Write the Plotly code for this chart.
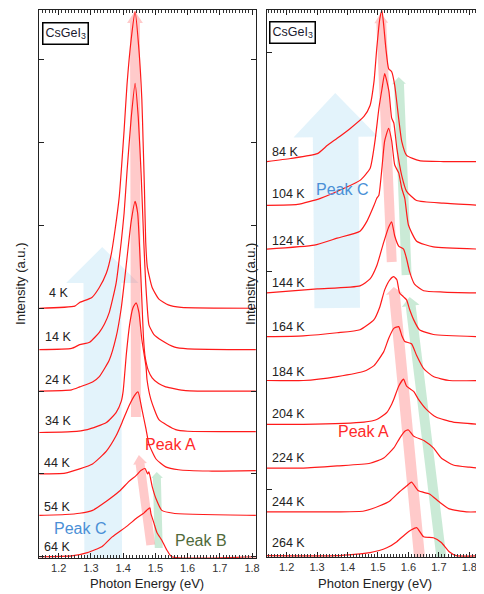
import math
import plotly.graph_objects as go

# The page body has an 8px margin, so the figure is drawn from (8, 8) in the window.
OX, OY = 8, 8
W, H = 484 - OX, 594 - OY

# ---------------- Left panel data (energy in eV, intensity above baseline in offset units)
left_labels = ["4 K", "14 K", "24 K", "34 K", "44 K", "54 K", "64 K"]
left_offsets = [6, 5, 4, 3, 2, 1, 0]

e_4K = [1.14, 1.25, 1.265, 1.303, 1.326, 1.348, 1.363, 1.375, 1.388, 1.394, 1.403, 1.412, 1.425, 1.437,
        1.449, 1.458, 1.462, 1.466, 1.470, 1.475, 1.49, 1.511, 1.54, 1.58, 1.812]
i_4K = [0, 0.05, 0.14, 0.26, 0.5, 0.85, 1.3, 1.9, 2.7, 3.3, 4.3, 5.4, 6.5, 7.16,
        6.24, 5.04, 4.0, 2.9, 1.6, 1.0, 0.5, 0.22, 0.08, 0.02, 0]

e_14K = [1.14, 1.24, 1.265, 1.296, 1.326, 1.342, 1.357, 1.378, 1.394, 1.403, 1.412, 1.425, 1.437,
         1.447, 1.456, 1.464, 1.47, 1.475, 1.48, 1.495, 1.52, 1.56, 1.60, 1.812]
i_14K = [0, 0.03, 0.12, 0.18, 0.42, 0.62, 0.9, 1.6, 2.6, 3.3, 4.3, 5.6, 6.43,
         5.6, 4.2, 2.6, 1.6, 1.0, 0.6, 0.37, 0.22, 0.06, 0.02, 0]

e_24K = [1.14, 1.24, 1.265, 1.305, 1.326, 1.357, 1.378, 1.394, 1.409, 1.425, 1.437,
         1.445, 1.452, 1.458, 1.463, 1.468, 1.478, 1.49, 1.51, 1.532, 1.594, 1.812]
i_24K = [0, 0.03, 0.1, 0.22, 0.35, 0.75, 1.3, 2.0, 3.0, 4.1, 4.58,
         4.3, 3.3, 2.2, 1.3, 0.84, 0.5, 0.32, 0.18, 0.1, 0.01, 0]

e_34K = [1.14, 1.24, 1.289, 1.348, 1.378, 1.394, 1.40, 1.41, 1.42, 1.43, 1.44,
         1.449, 1.458, 1.471, 1.474, 1.486, 1.511, 1.563, 1.60, 1.812]
i_34K = [0, 0.02, 0.07, 0.24, 0.48, 0.75, 1.0, 1.9, 2.6, 3.0, 3.13,
         2.9, 2.24, 1.59, 1.28, 0.8, 0.31, 0.07, 0.03, 0.02]

e_44K = [1.14, 1.22, 1.265, 1.305, 1.348, 1.378, 1.397, 1.418, 1.434, 1.446,
         1.458, 1.471, 1.48, 1.502, 1.532, 1.572, 1.665, 1.812]
i_44K = [0, 0.02, 0.12, 0.24, 0.55, 0.92, 1.25, 1.64, 1.88, 1.98,
         1.57, 1.08, 0.72, 0.36, 0.17, 0.1, 0.07, 0.08]

e_54K = [1.14, 1.22, 1.265, 1.305, 1.348, 1.388, 1.418, 1.440, 1.455, 1.468,
         1.476, 1.480, 1.49, 1.502, 1.52, 1.556, 1.812]
i_54K = [0, 0.02, 0.05, 0.12, 0.34, 0.58, 0.82, 0.96, 1.08, 1.13,
         1.0, 1.05, 0.7, 0.4, 0.12, 0.05, 0.0]

e_64K = [1.14, 1.24, 1.289, 1.335, 1.366, 1.412, 1.443, 1.465, 1.474, 1.483,
         1.486, 1.489, 1.496, 1.505, 1.52, 1.535, 1.551, 1.812]
i_64K = [0, 0.02, 0.1, 0.25, 0.48, 0.74, 0.94, 1.06, 1.13, 1.18,
         1.05, 0.97, 0.8, 0.58, 0.4, 0.17, 0.0, 0.0]

left_e = [e_4K, e_14K, e_24K, e_34K, e_44K, e_54K, e_64K]
left_i = [i_4K, i_14K, i_24K, i_34K, i_44K, i_54K, i_64K]

# ---------------- Right panel data
right_labels = ["84 K", "104 K", "124 K", "144 K", "164 K", "184 K", "204 K", "224 K", "244 K", "264 K"]
right_offsets = [9, 8, 7, 6, 5, 4, 3, 2, 1, 0]

e_84K = [1.135, 1.213, 1.301, 1.334, 1.366, 1.408, 1.454, 1.474, 1.487, 1.496, 1.506, 1.513,
         1.519, 1.526, 1.535, 1.545, 1.555, 1.568, 1.578, 1.594, 1.636, 1.715, 1.835]
i_84K = [0, 0.07, 0.18, 0.37, 0.53, 0.75, 1.03, 1.28, 1.83, 2.58, 3.26, 3.45,
         3.1, 2.58, 2.12, 2.05, 1.74, 0.98, 0.46, 0.14, 0.02, 0, 0]

e_104K = [1.135, 1.236, 1.311, 1.389, 1.441, 1.474, 1.49, 1.503, 1.513, 1.522,
          1.536, 1.545, 1.552, 1.562, 1.578, 1.594, 1.627, 1.715, 1.835]
i_104K = [0, 0.02, 0.16, 0.39, 0.57, 0.84, 1.46, 2.21, 2.65, 3.01,
          2.6, 1.99, 1.88, 1.30, 0.68, 0.32, 0.11, 0.05, 0]

e_124K = [1.135, 1.291, 1.366, 1.441, 1.464, 1.487, 1.496, 1.503, 1.513, 1.522, 1.535,
          1.545, 1.555, 1.568, 1.578, 1.588, 1.60, 1.627, 1.682, 1.835]
i_124K = [0, 0.09, 0.25, 0.41, 0.64, 1.0, 1.16, 1.23, 1.85, 2.47, 2.76,
          2.47, 1.92, 1.74, 1.39, 1.16, 0.55, 0.18, 0.05, 0]

e_144K = [1.135, 1.301, 1.441, 1.474, 1.496, 1.519, 1.535, 1.545,
          1.555, 1.568, 1.584, 1.594, 1.604, 1.62, 1.65, 1.715, 1.835]
i_144K = [0, 0.09, 0.16, 0.32, 0.62, 1.16, 1.5, 1.62,
          1.30, 1.07, 1.0, 0.78, 0.48, 0.2, 0.05, 0.02, 0]

e_164K = [1.135, 1.255, 1.366, 1.441, 1.487, 1.506, 1.522, 1.539, 1.552,
          1.562, 1.571, 1.584, 1.594, 1.604, 1.617, 1.636, 1.682, 1.835]
i_164K = [0, 0.02, 0.09, 0.16, 0.39, 0.68, 1.07, 1.30, 1.37,
          1.30, 1.0, 0.91, 0.84, 0.62, 0.39, 0.16, 0.05, 0]

e_184K = [1.135, 1.255, 1.366, 1.454, 1.487, 1.519, 1.535, 1.552, 1.568,
          1.578, 1.588, 1.61, 1.627, 1.65, 1.682, 1.734, 1.835]
i_184K = [0, 0, 0.09, 0.21, 0.34, 0.66, 0.96, 1.19, 1.23,
          1.03, 0.89, 0.84, 0.57, 0.27, 0.09, 0, 0]

e_204K = [1.135, 1.255, 1.454, 1.496, 1.529, 1.545, 1.552, 1.568, 1.584,
          1.594, 1.617, 1.633, 1.659, 1.692, 1.747, 1.835]
i_204K = [0, 0, 0.05, 0.11, 0.27, 0.46, 0.57, 0.87, 1.03,
          0.87, 0.75, 0.57, 0.34, 0.16, 0.05, 0]

e_224K = [1.135, 1.255, 1.366, 1.474, 1.519, 1.552, 1.571, 1.588, 1.60,
          1.617, 1.653, 1.682, 1.708, 1.747, 1.80, 1.835]
i_224K = [0, 0, 0.05, 0.11, 0.23, 0.46, 0.68, 0.84, 0.87,
          0.73, 0.62, 0.46, 0.23, 0.07, 0.02, 0]

e_244K = [1.135, 1.366, 1.454, 1.506, 1.539, 1.571, 1.594, 1.61,
          1.633, 1.669, 1.701, 1.734, 1.79, 1.835]
i_244K = [0, 0, 0.02, 0.14, 0.25, 0.46, 0.59, 0.68,
          0.48, 0.41, 0.23, 0.07, 0, 0]

e_264K = [1.135, 1.366, 1.474, 1.529, 1.562, 1.588, 1.61, 1.627,
          1.65, 1.682, 1.708, 1.734, 1.757, 1.835]
i_264K = [0, 0, 0.07, 0.18, 0.32, 0.48, 0.59, 0.64,
          0.43, 0.41, 0.30, 0.09, 0, 0]

right_e = [e_84K, e_104K, e_124K, e_144K, e_164K, e_184K, e_204K, e_224K, e_244K, e_264K]
right_i = [i_84K, i_104K, i_124K, i_144K, i_164K, i_184K, i_204K, i_224K, i_244K, i_264K]

x_ticks = [1.2, 1.3, 1.4, 1.5, 1.6, 1.7, 1.8]

# ---------------- Figure
fig = go.Figure()
RED = "#ff1a1a"
for e, i, off in zip(left_e, left_i, left_offsets):
    fig.add_trace(go.Scatter(x=e, y=[v + off for v in i], mode="lines",
                             line=dict(color=RED, width=1.2, shape="spline", smoothing=0.5),
                             xaxis="x", yaxis="y", showlegend=False, hoverinfo="skip"))
for e, i, off in zip(right_e, right_i, right_offsets):
    fig.add_trace(go.Scatter(x=e, y=[v + off for v in i], mode="lines",
                             line=dict(color=RED, width=1.2, shape="spline", smoothing=0.5),
                             xaxis="x2", yaxis="y2", showlegend=False, hoverinfo="skip"))


def px(x):
    return (x - OX) / W


def py(y):
    return 1 - (y - OY) / H


def arrow_path(x0, y0, x1, y1, w, hw, hl):
    dx, dy = x1 - x0, y1 - y0
    L = math.hypot(dx, dy)
    ux, uy = dx / L, dy / L
    nx, ny = -uy, ux
    bx, by = x1 - ux * hl, y1 - uy * hl
    pts = [(x0 + nx * w / 2, y0 + ny * w / 2), (bx + nx * w / 2, by + ny * w / 2),
           (bx + nx * hw / 2, by + ny * hw / 2), (x1, y1),
           (bx - nx * hw / 2, by - ny * hw / 2), (bx - nx * w / 2, by - ny * w / 2),
           (x0 - nx * w / 2, y0 - ny * w / 2)]
    return "M " + " L ".join(f"{px(a):.5f},{py(b):.5f}" for a, b in pts) + " Z"


BLUE_F = "rgba(100,190,235,0.18)"
RED_F = "rgba(255,90,90,0.32)"
GREEN_F = "rgba(80,185,120,0.3)"

arrows = [
    (104, 558, 103, 247, 38, 73, 36, BLUE_F),
    (340, 308, 338, 93, 46, 85, 44, BLUE_F),
    (137, 417, 136, 11, 10, 16, 12, RED_F),
    (152, 545, 140, 455, 9, 14, 9, RED_F),
    (160, 548, 158, 472, 8, 12, 6, GREEN_F),
    (395, 262, 384, 13, 10, 14, 10, RED_F),
    (410, 275, 402, 77, 10, 14, 7, GREEN_F),
    (423, 557, 397, 287, 11, 17, 7, RED_F),
    (445, 557, 413, 297, 10, 18, 9, GREEN_F),
]
shapes = []
for a in arrows:
    shapes.append(dict(type="path", xref="paper", yref="paper",
                       path=arrow_path(*a[:7]), fillcolor=a[7], line=dict(width=0), layer="below"))

FONT = "Liberation Sans, Arial, sans-serif"
ann = []
for lab, (lx, ly) in zip(left_labels, [(47, 293), (43, 337), (43, 380), (43, 421), (42, 463), (42, 507), (42, 547)]):
    ann.append(dict(text=lab, x=px(lx), y=py(ly), xref="paper", yref="paper", xanchor="left",
                    yanchor="middle", showarrow=False, font=dict(size=12.5, color="#222", family=FONT)))
for lab, ly in zip(right_labels, [152, 194, 241, 283, 327, 372, 414, 458, 502, 543]):
    ann.append(dict(text=lab, x=px(272), y=py(ly), xref="paper", yref="paper", xanchor="left",
                    yanchor="middle", showarrow=False, font=dict(size=12.5, color="#222", family=FONT)))

peak_txt = [("Peak A", 172, 444, "#ff2a2a"), ("Peak B", 203, 540, "#4f6a3a"), ("Peak C", 81, 528, "#4a8fd6"),
            ("Peak C", 345, 190, "#4a8fd6"), ("Peak A", 367, 431, "#ff2a2a")]
for t, x, y, c in peak_txt:
    ann.append(dict(text=t, x=px(x), y=py(y), xref="paper", yref="paper", xanchor="center",
                    yanchor="middle", showarrow=False, font=dict(size=16, color=c, family=FONT)))

for x, y in [(66, 34), (295, 33)]:
    ann.append(dict(text="CsGeI<sub>3</sub>", x=px(x), y=py(y), xref="paper", yref="paper",
                    xanchor="center", yanchor="middle", showarrow=False,
                    font=dict(size=12.5, color="#1a1a2e", family=FONT),
                    bordercolor="black", borderwidth=1.5, borderpad=2, bgcolor="white"))

for x in [20, 252]:
    ann.append(dict(text="Intensity (a.u.)", x=px(x), y=py(284), xref="paper", yref="paper",
                    xanchor="center", yanchor="middle", textangle=-90, showarrow=False,
                    font=dict(size=13, color="#222", family=FONT)))
for x in [148, 378]:
    ann.append(dict(text="Photon Energy (eV)", x=px(x), y=py(583), xref="paper", yref="paper",
                    xanchor="center", yanchor="middle", showarrow=False,
                    font=dict(size=13, color="#222", family=FONT)))

xcommon = dict(tickmode="array", tickvals=x_ticks, ticktext=[f"{v:.1f}" for v in x_ticks],
               ticks="inside", ticklen=5, tickcolor="#222", showline=True, linecolor="#222",
               linewidth=1.3, showgrid=False, zeroline=False,
               tickfont=dict(size=11, color="#333", family=FONT),
               minor=dict(dtick=0.01, tick0=1.2, ticks="inside", ticklen=3, tickcolor="#333"))

fig.update_layout(
    width=W, height=H, margin=dict(l=0, r=0, t=0, b=0),
    paper_bgcolor="white", plot_bgcolor="rgba(0,0,0,0)",
    showlegend=False, shapes=shapes, annotations=ann,
    xaxis=dict(domain=[px(39), px(258)], range=[1.138, 1.812], anchor="y", mirror="allticks", **xcommon),
    yaxis=dict(domain=[py(558), py(10)], range=[-0.03, 13.2], anchor="x",
               tickmode="linear", tick0=0, dtick=2, ticks="inside", ticklen=5, tickcolor="#222",
               showticklabels=False, showline=True, linecolor="#222", linewidth=1.3,
               mirror="allticks", showgrid=False, zeroline=False),
    xaxis2=dict(domain=[px(269), 1.0], range=[1.135, 1.835], anchor="y2", mirror="allticks", **xcommon),
    yaxis2=dict(domain=[py(557), py(10)], range=[-0.03, 12.46], anchor="x2",
                tickmode="linear", tick0=1.5, dtick=5, ticks="inside", ticklen=5, tickcolor="#222",
                showticklabels=False, showline=True, linecolor="#222", linewidth=1.3,
                mirror=False, showgrid=False, zeroline=False),
)

fig.write_html("out.html")
